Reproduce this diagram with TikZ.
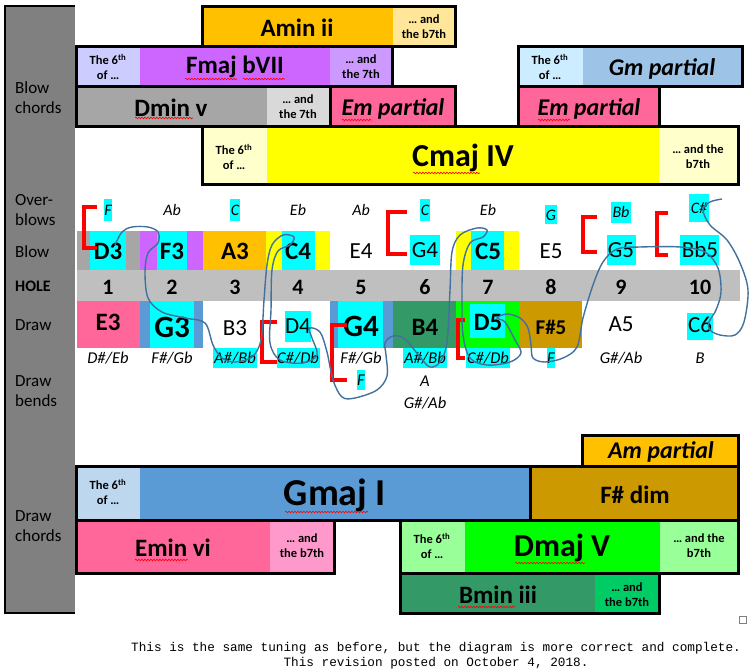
\documentclass[tikz,border=0pt]{standalone}
\usepackage{fontspec}
\setmainfont{Carlito}
\newfontfamily\courierfont{Liberation Mono}
\usetikzlibrary{decorations.pathmorphing}
\definecolor{amber}{HTML}{FFC000}
\definecolor{amberlt}{HTML}{FFE699}
\definecolor{violet}{HTML}{CC66FF}
\definecolor{lavender}{HTML}{CCCCFF}
\definecolor{violetlt}{HTML}{CC99FF}
\definecolor{midgray}{HTML}{A6A6A6}
\definecolor{palegray}{HTML}{D9D9D9}
\definecolor{rose}{HTML}{FF6699}
\definecolor{roselt}{HTML}{FF99CC}
\definecolor{skylt}{HTML}{CCECFF}
\definecolor{sky}{HTML}{9DC3E6}
\definecolor{lemon}{HTML}{FFFF00}
\definecolor{lemonlt}{HTML}{FFFFCC}
\definecolor{holegray}{HTML}{BFBFBF}
\definecolor{sidegray}{HTML}{808080}
\definecolor{hilite}{HTML}{00FFFF}
\definecolor{steel}{HTML}{5B9BD5}
\definecolor{steellt}{HTML}{BDD7EE}
\definecolor{sea}{HTML}{339966}
\definecolor{lime}{HTML}{00FF00}
\definecolor{limelt}{HTML}{99FF99}
\definecolor{jade}{HTML}{00CC66}
\definecolor{ochre}{HTML}{CC9900}
\definecolor{wavy}{HTML}{41719C}
\tikzset{
  chordbox/.style={draw=black,line width=3pt},
  chordname/.style={inner sep=0pt,font=\fontsize{25}{25}\selectfont\bfseries},
  partname/.style={inner sep=0pt,font=\fontsize{24}{24}\selectfont\bfseries\itshape},
  extra/.style={inner sep=0pt,align=center,font=\fontsize{12.5}{15}\selectfont\bfseries},
  rowlabel/.style={inner sep=0pt,anchor=west,align=left,font=\fontsize{17}{20}\selectfont},
  notebold/.style={inner sep=0pt,font=\fontsize{25}{25}\selectfont\bfseries},
  notebig/.style={inner sep=0pt,font=\fontsize{31}{31}\selectfont\bfseries},
  noteplain/.style={inner sep=0pt,font=\fontsize{23}{23}\selectfont},
  holenum/.style={inner sep=0pt,font=\fontsize{22}{22}\selectfont\bfseries},
  bendtext/.style={inner sep=0pt,font=\fontsize{16.5}{16.5}\selectfont\itshape},
  overtext/.style={inner sep=0pt,font=\fontsize{16}{16}\selectfont\itshape},
  bracket/.style={draw=red,line width=4pt},
  spell/.style={draw=red,line width=0.6pt,decorate,decoration={snake,amplitude=0.8pt,segment length=3pt}}
}
\begin{document}
\begin{tikzpicture}[x=1pt,y=-1pt]
\useasboundingbox (0,0) rectangle (750,671);
% side column
\fill[sidegray] (5,6) rectangle (75,613);
\draw[line width=2pt] (75,6) -- (5,6) -- (5,613) -- (75,613);
\node[rowlabel] (lblbc) at (15,98) {Blow\\chords};
\node[rowlabel] (lblob) at (15,210) {Over-\\blows};
\node[rowlabel] (lblbl) at (15,252) {Blow};
\node[rowlabel,font=\fontsize{16}{16}\selectfont\bfseries] (lblho) at (15,286) {HOLE};
\node[rowlabel] (lbldr) at (15,325) {Draw};
\node[rowlabel] (lbldb) at (15,391) {Draw\\bends};
\node[rowlabel] (lbldc) at (15,526) {Draw\\chords};

% blow chords
\fill[amber] (202,7) rectangle (393,47);
\fill[amberlt] (393,7) rectangle (455,47);
\draw[chordbox] (202,7) rectangle (455,47);
\node[chordname] (amin) at (297,28) {Amin ii};
\node[extra] (aminx) at (424,27) {… and\\the b7th};

\fill[lavender] (76,47) rectangle (140,87);
\fill[violet] (140,47) rectangle (330,87);
\fill[violetlt] (330,47) rectangle (392,87);
\draw[chordbox] (76,47) rectangle (392,87);
\node[extra] (fmajs) at (108,67) {The 6\textsuperscript{th}\\of …};
\node[chordname] (fmaj) at (235,67) {Fmaj bVII};
\node[extra] (fmajx) at (361,67) {… and\\the 7th};

\fill[midgray] (76,87) rectangle (267,127);
\fill[palegray] (267,87) rectangle (330,127);
\draw[chordbox] (76,87) rectangle (330,127);
\node[chordname] (dmin) at (171,108) {Dmin v};
\node[extra] (dminx) at (298,107) {… and\\the 7th};
\fill[rose] (330,87) rectangle (455,127);
\draw[chordbox] (330,87) rectangle (455,127);
\node[partname] (ema) at (393,109) {Em partial};

\fill[skylt] (518,47) rectangle (583,87);
\fill[sky] (583,47) rectangle (742,87);
\draw[chordbox] (518,47) rectangle (742,87);
\node[extra] (gms) at (550,67) {The 6\textsuperscript{th}\\of …};
\node[partname] (gm) at (662,69) {Gm partial};
\fill[rose] (518,87) rectangle (659,127);
\draw[chordbox] (518,87) rectangle (659,127);
\node[partname] (emb) at (589,109) {Em partial};

\fill[lemonlt] (202,127) rectangle (267,185);
\fill[lemon] (267,127) rectangle (659,185);
\fill[lemonlt] (659,127) rectangle (738,185);
\draw[chordbox] (202,127) rectangle (738,185);
\node[extra] (cmajs) at (234,157) {The 6\textsuperscript{th}\\of …};
\node[chordname,font=\fontsize{32}{32}\selectfont\bfseries] (cmaj) at (463,158) {Cmaj IV};
\node[extra] (cmajx) at (698,157) {… and the\\b7th};

% blow row
\fill[midgray] (77,231) rectangle (140,270);
\fill[violet] (140,231) rectangle (203,270);
\fill[amber] (203,231) rectangle (266,270);
\fill[lemon] (266,231) rectangle (330,270);
\fill[lemon] (456,231) rectangle (519,270);
\fill[hilite] (90,231) rectangle (126,270);
\fill[hilite] (157,231) rectangle (187,270);
\fill[hilite] (282,231) rectangle (315,270);
\fill[hilite] (410,235) rectangle (440,265);
\fill[hilite] (471,231) rectangle (504,270);
\fill[hilite] (607,235) rectangle (636,265);
\fill[hilite] (680,235) rectangle (719,265);
\node[notebold] (b1) at (108,251) {D3};
\node[notebold] (b2) at (172,251) {F3};
\node[notebold] (b3) at (235,251) {A3};
\node[notebold] (b4) at (298,251) {C4};
\node[noteplain] (b5) at (361,251) {E4};
\node[noteplain] (b6) at (425,250) {G4};
\node[notebold] (b7) at (488,251) {C5};
\node[noteplain] (b8) at (551,251) {E5};
\node[noteplain] (b9) at (621,250) {G5};
\node[noteplain] (b10) at (700,250) {Bb5};

% hole row
\fill[holegray] (77,270) rectangle (740,301);
\foreach \n/\x in {1/108,2/172,3/235,4/298,5/361,6/425,7/488,8/551,9/621,10/700}
  \node[holenum] (h\n) at (\x,287) {\n};

% draw row
\fill[rose] (77,301) rectangle (140,348);
\fill[steel] (140,301) rectangle (203,348);
\fill[steel] (330,301) rectangle (393,348);
\fill[sea] (393,301) rectangle (456,348);
\fill[lime] (456,301) rectangle (519,348);
\fill[ochre] (519,301) rectangle (582,348);
\fill[hilite] (150,301) rectangle (194,348);
\fill[hilite] (285,311) rectangle (311,342);
\fill[hilite] (338,301) rectangle (383,348);
\fill[hilite] (470,304) rectangle (505,338);
\fill[hilite] (687,313) rectangle (713,340);
\node[notebold] (d1) at (108,322) {E3};
\node[notebig] (d2) at (172,327) {G3};
\node[noteplain] (d3) at (235,328) {B3};
\node[noteplain] (d4) at (298,326) {D4};
\node[notebig] (d5) at (361,326) {G4};
\node[notebold] (d6) at (425,327) {B4};
\node[notebold] (d7) at (488,322) {D5};
\node[notebold,font=\fontsize{21}{21}\selectfont\bfseries] (d8) at (551,327) {F\#5};
\node[noteplain] (d9) at (621,324) {A5};
\node[noteplain] (d10) at (700,325) {C6};

% overblows
\fill[hilite] (104,199) rectangle (112,221);
\fill[hilite] (230,199) rectangle (240,221);
\fill[hilite] (420,199) rectangle (430,221);
\fill[hilite] (545,205) rectangle (557,224);
\fill[hilite] (611,202) rectangle (631,223);
\fill[hilite] (689,194) rectangle (709,222);
\node[overtext] (o1) at (108,210) {F};
\node[overtext] (o2) at (172,210) {Ab};
\node[overtext] (o3) at (235,210) {C};
\node[overtext] (o4) at (298,210) {Eb};
\node[overtext] (o5) at (361,210) {Ab};
\node[overtext] (o6) at (425,210) {C};
\node[overtext] (o7) at (488,210) {Eb};
\node[overtext] (o8) at (551,215) {G};
\node[overtext] (o9) at (621,212) {Bb};
\node[overtext] (o10) at (699,208) {C\#};

% draw bends
\fill[hilite] (213,348) rectangle (257,368);
\fill[hilite] (277,348) rectangle (320,368);
\fill[hilite] (403,348) rectangle (447,368);
\fill[hilite] (466,348) rectangle (510,368);
\fill[hilite] (547,348) rectangle (555,368);
\fill[hilite] (357,370) rectangle (365,390);
\node[bendtext] (e1) at (108,358) {D\#/Eb};
\node[bendtext] (e2) at (172,358) {F\#/Gb};
\node[bendtext] (e3) at (235,358) {A\#/Bb};
\node[bendtext] (e4) at (298,358) {C\#/Db};
\node[bendtext] (e5) at (361,358) {F\#/Gb};
\node[bendtext] (e6) at (425,358) {A\#/Bb};
\node[bendtext] (e7) at (488,358) {C\#/Db};
\node[bendtext] (e8) at (551,358) {F};
\node[bendtext] (e9) at (621,358) {G\#/Ab};
\node[bendtext] (e10) at (700,358) {B};
\node[bendtext] (f5) at (361,380) {F};
\node[bendtext] (f6) at (425,381) {A};
\node[bendtext] (g6) at (425,403) {G\#/Ab};

% brackets
\draw[bracket] (97,207) -- (84,207) -- (84,248) -- (97,248);
\draw[bracket] (407,212) -- (388,212) -- (388,254) -- (407,254);
\draw[bracket] (597,217) -- (583,217) -- (583,252) -- (597,252);
\draw[bracket] (668,213) -- (657,213) -- (657,255) -- (668,255);
\draw[bracket] (277,322) -- (262,322) -- (262,362) -- (277,362);
\draw[bracket] (347,325) -- (332,325) -- (332,380) -- (347,380);
\draw[bracket] (465,320) -- (458,320) -- (458,358) -- (465,358);

% scribble
\draw[wavy,line width=1.4pt] plot[smooth,tension=0.55] coordinates {
 (115,245) (122,232) (132,227) (148,227) (158,232) (158,243) (148,253) (145,272)
 (148,298) (162,312) (185,318) (205,323) (213,345) (222,358) (235,362) (252,357)
 (261,340) (264,300) (267,265) (272,245) (283,235) (294,237) (290,245) (278,251)
 (272,270) (271,310) (270,343) (280,360) (303,363) (317,355) (312,338) (309,328)
 (320,332) (327,352) (333,380) (342,397) (355,398) (377,390) (387,376) (386,355)
 (385,343) (393,336) (405,339) (420,357) (430,367) (440,362) (447,342) (450,290)
 (452,252) (460,235) (477,228) (487,230) (483,237) (470,243) (463,265) (462,302)
 (463,335) (470,358) (487,365) (510,362) (521,353) (515,340) (505,322) (497,318)
 (507,314) (520,318) (528,328) (531,345) (533,358) (545,362) (563,358) (577,347)
 (583,318) (593,285) (603,262) (617,249) (640,247) (680,247) (705,252) (718,268)
 (721,292) (716,310) (709,322) (710,330) (720,335) (735,335) (744,322) (748,290)
 (740,263) (727,240) (710,225) (703,210) (710,202) (722,199)};

% draw chords
\fill[amber] (582,435) rectangle (738,466);
\draw[chordbox] (582,435) rectangle (738,466);
\node[partname] (am) at (661,452) {Am partial};

\fill[steellt] (76,466) rectangle (140,520);
\fill[steel] (140,466) rectangle (530,520);
\draw[chordbox] (76,466) rectangle (530,520);
\node[extra] (gmajs) at (108,492) {The 6\textsuperscript{th}\\of …};
\node[chordname,font=\fontsize{38}{38}\selectfont\bfseries] (gmaj) at (335,495) {Gmaj I};
\fill[ochre] (530,466) rectangle (738,520);
\draw[chordbox] (530,466) rectangle (738,520);
\node[chordname] (fsdim) at (635,495) {F\# dim};

\fill[rose] (76,520) rectangle (270,573);
\fill[roselt] (270,520) rectangle (334,573);
\draw[chordbox] (76,520) rectangle (334,573);
\node[chordname] (emin) at (173,548) {Emin vi};
\node[extra] (eminx) at (302,546) {… and\\the b7th};

\fill[limelt] (400,520) rectangle (465,573);
\fill[lime] (465,520) rectangle (660,573);
\fill[limelt] (660,520) rectangle (738,573);
\draw[chordbox] (400,520) rectangle (738,573);
\node[extra] (dmajs) at (432,546) {The 6\textsuperscript{th}\\of …};
\node[chordname,font=\fontsize{32}{32}\selectfont\bfseries] (dmaj) at (562,548) {Dmaj V};
\node[extra] (dmajx) at (699,546) {… and the\\b7th};

\fill[sea] (400,573) rectangle (595,613);
\fill[jade] (595,573) rectangle (659,613);
\draw[chordbox] (400,573) rectangle (659,613);
\node[chordname] (bmin) at (498,595) {Bmin iii};
\node[extra] (bminx) at (627,595) {… and\\the b7th};

% spell-check marks
\draw[spell] (185,79) -- (237,79);
\draw[spell] (243,79) -- (285,79);
\draw[spell] (135,118) -- (193,118);
\draw[spell] (342,120) -- (371,120);
\draw[spell] (538,120) -- (570,120);
\draw[spell] (413,173) -- (480,173);
\draw[spell] (285,512) -- (368,512);
\draw[spell] (135,560) -- (188,560);
\draw[spell] (515,563) -- (585,563);
\draw[spell] (458,607) -- (515,607);

\draw[gray,line width=0.5pt] (739,616) rectangle (746,623);
\node[inner sep=0pt,font=\courierfont\fontsize{12.7}{13}\selectfont] (note1) at (436,648)
  {This is the same tuning as before, but the diagram is more correct and complete.};
\node[inner sep=0pt,font=\courierfont\fontsize{12.7}{13}\selectfont] (note2) at (436,663)
  {This revision posted on October 4, 2018.};
\end{tikzpicture}
\end{document}
